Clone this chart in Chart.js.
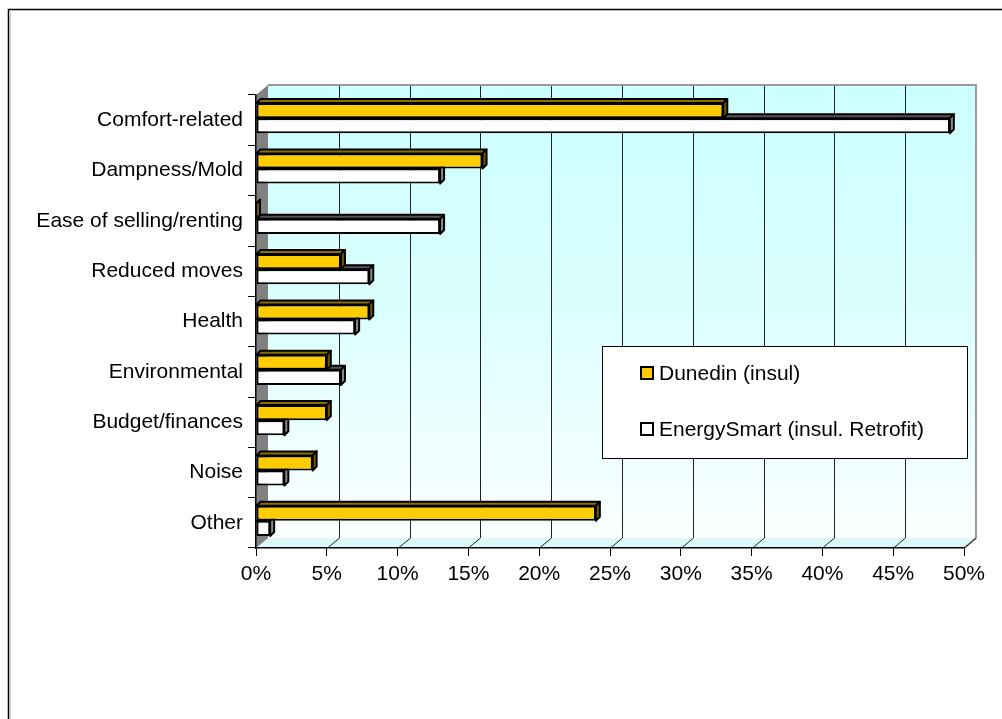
<!DOCTYPE html>
<html>
<head>
<meta charset="utf-8">
<script src="https://cdn.jsdelivr.net/npm/chart.js@4"></script>
<style>
  html,body{margin:0;padding:0;background:#fff;}
  #wrap{width:1002px;height:719px;position:relative;}
</style>
</head>
<body>
<div id="wrap"><canvas id="chart" width="1002" height="719"></canvas></div>
<script>
// categories, top to bottom
const categories = ["Comfort-related","Dampness/Mold","Ease of selling/renting","Reduced moves","Health","Environmental","Budget/finances","Noise","Other"];
// percent values
const dunedin = [33,16,0,6,8,5,5,4,24];
const energySmart = [49,13,13,8,7,6,2,2,1];
const seriesNames = ["Dunedin (insul)","EnergySmart (insul. Retrofit)"];
const xTicks = [0,5,10,15,20,25,30,35,40,45,50];

const FONT = "'Liberation Sans', Arial, sans-serif";
const WALL_DX = 12, WALL_DY = 10;   // depth of the 3d walls
const BAR_D = 4;                     // depth of bar extrusion
const BAR_SHIFT = -2;                // bars sit a bit high in the 3d view

// faces for the fake 3d look: [top, side]
const faceColors = [["#8a6e00","#6e5800"],["#555555","#8a8a8a"]];

const walls = {
  id:"walls",
  beforeDraw(chart){
    const {ctx, chartArea:a, scales:{x}} = chart;
    const L=a.left, R=a.right, T=a.top, B=a.bottom;
    ctx.save();
    // back wall
    const g = ctx.createLinearGradient(0,T-WALL_DY,0,B-WALL_DY);
    g.addColorStop(0,"#ccffff");
    g.addColorStop(0.5,"#dcffff");
    g.addColorStop(1,"#fbffff");
    ctx.fillStyle=g;
    ctx.fillRect(L+WALL_DX,T-WALL_DY,R-L,B-T);
    // floor
    ctx.fillStyle="#ddfafa";
    ctx.beginPath();
    ctx.moveTo(L,B);ctx.lineTo(L+WALL_DX,B-WALL_DY);ctx.lineTo(R+WALL_DX,B-WALL_DY);ctx.lineTo(R,B);ctx.closePath();
    ctx.fill();
    ctx.strokeStyle="#999";ctx.lineWidth=2;
    ctx.beginPath();ctx.moveTo(R,B);ctx.lineTo(R+WALL_DX,B-WALL_DY);ctx.stroke();
    // left wall
    ctx.fillStyle="#808080";
    ctx.beginPath();
    ctx.moveTo(L,T);ctx.lineTo(L+WALL_DX,T-WALL_DY);ctx.lineTo(L+WALL_DX,B-WALL_DY);ctx.lineTo(L,B);ctx.closePath();
    ctx.fill();
    // grid lines on back wall + floor
    ctx.strokeStyle="#222";ctx.lineWidth=1;
    xTicks.forEach(v=>{
      if(v===0) return;
      const px=Math.round(x.getPixelForValue(v))+0.5;
      if(v!==xTicks[xTicks.length-1]){
        ctx.beginPath();ctx.moveTo(px+WALL_DX,T-WALL_DY);ctx.lineTo(px+WALL_DX,B-WALL_DY);ctx.stroke();
      }
      ctx.beginPath();ctx.moveTo(px,B);ctx.lineTo(px+WALL_DX,B-WALL_DY);ctx.stroke();
    });
    // back wall border
    ctx.strokeStyle="#999";ctx.lineWidth=2;
    ctx.beginPath();
    ctx.moveTo(L+WALL_DX,T-WALL_DY);ctx.lineTo(R+WALL_DX,T-WALL_DY);ctx.lineTo(R+WALL_DX,B-WALL_DY);
    ctx.stroke();
    ctx.restore();
  },
  beforeDatasetsDraw(chart){
    const ctx=chart.ctx;
    ctx.save();
    ctx.translate(0,BAR_SHIFT);
    ctx.strokeStyle="#000";ctx.lineWidth=2;ctx.lineJoin="round";
    [1,0].forEach(di=>{
      chart.getDatasetMeta(di).data.forEach(el=>{
        const {x,y,base,height}=el.getProps(["x","y","base","height"],true);
        const t=y-height/2, b=y+height/2;
        // top face
        ctx.fillStyle=faceColors[di][0];
        ctx.beginPath();
        ctx.moveTo(base,t);ctx.lineTo(base+BAR_D,t-BAR_D);ctx.lineTo(x+BAR_D,t-BAR_D);ctx.lineTo(x,t);ctx.closePath();
        ctx.fill();ctx.stroke();
        // side face
        ctx.fillStyle=faceColors[di][1];
        ctx.beginPath();
        ctx.moveTo(x,t);ctx.lineTo(x+BAR_D,t-BAR_D);ctx.lineTo(x+BAR_D,b-BAR_D);ctx.lineTo(x,b);ctx.closePath();
        ctx.fill();ctx.stroke();
      });
    });
    // keep the shift on for the bar fronts, undone in afterDatasetsDraw
  },
  afterDatasetsDraw(chart){
    chart.ctx.restore();
  },
  afterDraw(chart){
    const ctx=chart.ctx;
    ctx.save();
    // legend box
    ctx.fillStyle="#fff";ctx.fillRect(602,346,365,112);
    ctx.strokeStyle="#000";ctx.lineWidth=1;
    ctx.strokeRect(602.5,346.5,365,112);
    const ys=[373,429];
    chart.data.datasets.forEach((ds,i)=>{
      ctx.fillStyle=ds.backgroundColor;
      ctx.fillRect(641,ys[i]-6,12,12);
      ctx.lineWidth=2;ctx.strokeStyle="#000";
      ctx.strokeRect(641,ys[i]-6,12,12);
      ctx.fillStyle="#000";ctx.font="21px "+FONT;
      ctx.textBaseline="middle";ctx.textAlign="left";
      ctx.fillText(ds.label,659,ys[i]+1);
    });
    // outer frame
    ctx.strokeStyle="#000";ctx.lineWidth=1.5;
    ctx.beginPath();ctx.moveTo(8.5,719);ctx.lineTo(8.5,9.5);ctx.lineTo(1002,9.5);ctx.stroke();
    ctx.strokeStyle="#ccc";ctx.lineWidth=1;
    ctx.beginPath();ctx.moveTo(10.5,719);ctx.lineTo(10.5,11.5);ctx.stroke();
    ctx.restore();
  }
};

new Chart(document.getElementById("chart"),{
  type:"bar",
  data:{
    labels:categories,
    datasets:[
      {label:seriesNames[0],data:dunedin,backgroundColor:"#ffcc00",borderColor:"#000",borderWidth:2,borderSkipped:false},
      {label:seriesNames[1],data:energySmart,backgroundColor:"#ffffff",borderColor:"#000",borderWidth:2,borderSkipped:false}
    ]
  },
  options:{
    indexAxis:"y",
    responsive:false,
    animation:false,
    layout:{padding:{left:0,top:95,right:38,bottom:131}},
    datasets:{bar:{categoryPercentage:0.6,barPercentage:1.0}},
    plugins:{legend:{display:false},tooltip:{enabled:false}},
    scales:{
      x:{
        min:0,max:50,
        afterFit:s=>{s.height=40;},
        afterBuildTicks:s=>{s.ticks=xTicks.map(v=>({value:v}));},
        ticks:{callback:v=>v+"%",color:"#000",font:{family:FONT,size:21},padding:6,maxRotation:0,autoSkip:false},
        grid:{drawOnChartArea:false,drawTicks:true,tickLength:8,color:"#000"},
        border:{color:"#000",width:1.5}
      },
      y:{
        afterFit:s=>{s.width=256;},
        ticks:{color:"#000",font:{family:FONT,size:21},padding:5,autoSkip:false},
        grid:{drawOnChartArea:false,drawTicks:true,tickLength:8,color:"#000"},
        border:{color:"#000",width:1.5}
      }
    }
  },
  plugins:[walls]
});
</script>
</body>
</html>
